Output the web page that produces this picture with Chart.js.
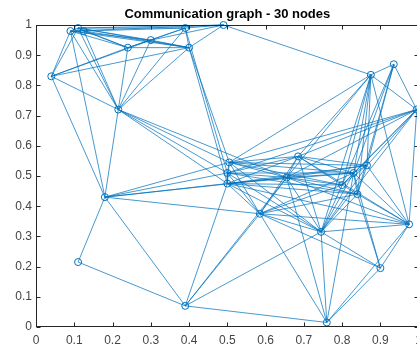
<!DOCTYPE html>
<html>
<head>
<meta charset="utf-8">
<script src="https://cdn.jsdelivr.net/npm/chart.js@4"></script>
<style>
  html, body { margin: 0; padding: 0; background: #fff; overflow: hidden; }
  #wrap { width: 417px; height: 349px; overflow: hidden; }
  #wrap canvas { display: block; }
</style>
</head>
<body>
<div id="wrap"><canvas id="graph" width="428" height="349"></canvas></div>
<script>
// node positions in the unit square
const nodeX = [0.09, 0.11, 0.125, 0.24, 0.30, 0.39, 0.40, 0.49, 0.04, 0.215,
               0.18, 0.11, 0.39, 0.76, 0.90, 0.975, 0.935, 0.875, 0.995, 0.745,
               0.585, 0.505, 0.50, 0.50, 0.685, 0.655, 0.865, 0.83, 0.84, 0.80];
const nodeY = [0.98, 0.99, 0.98, 0.925, 0.95, 0.99, 0.925, 1.00, 0.83, 0.72,
               0.43, 0.215, 0.07, 0.015, 0.195, 0.34, 0.87, 0.835, 0.72, 0.315,
               0.375, 0.545, 0.51, 0.475, 0.565, 0.495, 0.535, 0.51, 0.44, 0.47];

// links as (from, to) node indices
const edgeFrom = [0,0,1,0,1,2,0,1,1,2,0,1,2,1,3,3,4,4,5,5,6,3,4,0,
                  8,8,8,8,8,8,8,
                  9,9,9,9,9,9,9,9,9,9,9,9,
                  0,6,6,5,7,
                  10,10,10,10,10,10,10,
                  11,
                  12,12,12,12,12,
                  13,13,13,13,13,13,
                  14,14,14,14,14,
                  15,15,15,15,15,15,15,15,15,15,
                  16,16,16,16,16,16,
                  17,17,17,17,17,17,17,17,17,
                  18,18,18,18,18,18,18,18,
                  19,19,19,19,19,19,19,19,19,19,
                  20,20,20,20,20,20,20,20,
                  21,21,21,21,21,21,21,22,22,22,22,22,23,23,23,23,23,23,
                  24,24,24,24,25,25,25,25,26,26,27,27,28,26];
const edgeTo   = [1,2,2,3,3,3,4,4,5,5,7,7,6,6,4,6,6,5,6,7,7,5,7,6,
                  0,1,9,10,4,6,3,
                  0,1,2,3,4,5,6,10,21,22,23,25,
                  10,21,23,22,17,
                  11,12,21,22,23,20,25,
                  12,
                  13,20,23,19,25,
                  19,20,27,14,25,15,
                  15,19,28,27,20,
                  18,19,28,27,26,25,24,23,20,17,
                  17,18,26,28,27,29,
                  18,26,27,28,24,25,21,29,19,
                  26,27,24,25,22,21,19,29,
                  20,21,22,23,24,25,27,28,29,26,
                  21,22,23,24,25,28,27,29,
                  22,23,24,25,26,27,29,23,24,25,27,28,25,24,28,29,26,27,
                  25,26,27,29,26,27,28,29,27,28,28,29,29,29];

const tickValues = [0, 0.1, 0.2, 0.3, 0.4, 0.5, 0.6, 0.7, 0.8, 0.9, 1];

const lineBlue = 'rgba(0, 114, 189, 0.72)';
const axisColor = '#262626';

const datasets = [];
// nodes drawn on top of the links
datasets.push({
  data: nodeX.map((x, i) => ({ x: x, y: nodeY[i] })),
  pointStyle: 'circle',
  pointRadius: 3.5,
  pointBorderColor: '#0072BD',
  pointBackgroundColor: 'rgba(255,255,255,0)',
  pointBorderWidth: 1,
  showLine: false,
  clip: false,
  order: 0
});
edgeFrom.forEach((a, k) => {
  const b = edgeTo[k];
  datasets.push({
    data: [{ x: nodeX[a], y: nodeY[a] }, { x: nodeX[b], y: nodeY[b] }],
    showLine: true,
    borderColor: lineBlue,
    borderWidth: 1,
    pointRadius: 0,
    clip: false,
    order: 1
  });
});

// MATLAB-like box with inward ticks on all four sides
const boxPlugin = {
  id: 'box',
  afterDatasetsDraw(chart) {
    const { ctx, chartArea: a, scales } = chart;
    ctx.save();
    ctx.strokeStyle = axisColor;
    ctx.lineWidth = 1;
    const L = Math.round(a.left) + 0.5, R = Math.round(a.right) - 0.5;
    const T = Math.round(a.top) + 0.5, B = Math.round(a.bottom) - 0.5;
    ctx.strokeRect(L, T, R - L, B - T);
    ctx.beginPath();
    tickValues.forEach(v => {
      const px = Math.round(scales.x.getPixelForValue(v)) + 0.5;
      ctx.moveTo(px, B); ctx.lineTo(px, B - 4);
      ctx.moveTo(px, T); ctx.lineTo(px, T + 4);
      const py = Math.round(scales.y.getPixelForValue(v)) + 0.5;
      ctx.moveTo(L, py); ctx.lineTo(L + 4, py);
      ctx.moveTo(R, py); ctx.lineTo(R - 4, py);
    });
    ctx.stroke();
    ctx.restore();
  }
};

const tickFont = { family: 'Liberation Sans, Arial, sans-serif', size: 12 };

new Chart(document.getElementById('graph'), {
  type: 'scatter',
  data: { datasets: datasets },
  options: {
    responsive: false,
    animation: false,
    layout: { padding: 0 },
    plugins: {
      legend: { display: false },
      tooltip: { enabled: false },
      title: {
        display: true,
        text: 'Communication graph - 30 nodes',
        fullSize: false,
        color: '#000',
        font: { family: 'Liberation Sans, Arial, sans-serif', size: 13, weight: 'bold' },
        padding: { top: 7, bottom: 2.4 }
      }
    },
    scales: {
      x: {
        type: 'linear',
        min: 0, max: 1,
        afterBuildTicks: s => { s.ticks = tickValues.map(v => ({ value: v })); },
        afterFit: s => { s.height = 22; },
        grid: { display: false, drawTicks: false },
        border: { display: false },
        ticks: {
          color: '#444',
          font: tickFont,
          padding: 6,
          maxRotation: 0,
          callback: v => String(Math.round(v * 10) / 10)
        }
      },
      y: {
        type: 'linear',
        min: 0, max: 1,
        afterBuildTicks: s => { s.ticks = tickValues.map(v => ({ value: v })); },
        afterFit: s => { s.width = 36; },
        grid: { display: false, drawTicks: false },
        border: { display: false },
        ticks: {
          color: '#444',
          font: tickFont,
          padding: 4,
          callback: v => String(Math.round(v * 10) / 10)
        }
      }
    }
  },
  plugins: [boxPlugin]
});
</script>
</body>
</html>
